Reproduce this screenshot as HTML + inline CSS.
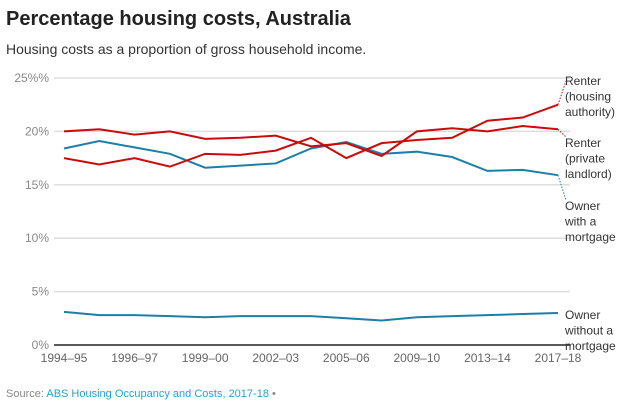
<!DOCTYPE html>
<html><head><meta charset="utf-8"><style>
body{margin:0;background:#fff;font-family:"Liberation Sans",sans-serif;}
#c{position:relative;width:640px;height:406px;overflow:hidden}
</style></head><body>
<div id="c">
<svg id="s" width="640" height="406">
<text x="6" y="25" font-size="20" font-weight="bold" fill="#222">Percentage housing costs, Australia</text>
<text x="6" y="54" font-size="14" fill="#333">Housing costs as a proportion of gross household income.</text>
<text x="6" y="397" font-size="11" fill="#888">Source: <tspan fill="#2a9fd0">ABS Housing Occupancy and Costs, 2017-18</tspan> •</text>
<g id="grid"></g><g id="lines"></g><g id="labels"></g>
</svg>
</div>
<script>
const categories=["1994–95","1995–96","1996–97","1997–98","1999–00","2000–01","2002–03","2003–04","2005–06","2007–08","2009–10","2011–12","2013–14","2015–16","2017–18"];
const tickLabels=["1994–95","1996–97","1999–00","2002–03","2005–06","2009–10","2013–14","2017–18"];
const yTicks=[0,5,10,15,20,25];
const yTickLabels=["0%","5%","10%","15%","20%","25%%"];
const renterPrivate=[20.0,20.2,19.7,20.0,19.3,19.4,19.6,18.6,18.9,17.7,20.0,20.3,20.0,20.5,20.2];
const renterAuthority=[17.5,16.9,17.5,16.7,17.9,17.8,18.2,19.4,17.5,18.9,19.2,19.4,21.0,21.3,22.5];
const ownerMortgage=[18.4,19.1,18.5,17.9,16.6,16.8,17.0,18.4,19.0,17.9,18.1,17.6,16.3,16.4,15.9];
const ownerOutright=[3.1,2.8,2.8,2.7,2.6,2.7,2.7,2.7,2.5,2.3,2.6,2.7,2.8,2.9,3.0];
const NS="http://www.w3.org/2000/svg";
const x0=64,x1=558,y0=345,y25=78;
const xs=i=>x0+i*(x1-x0)/(categories.length-1);
const ys=v=>y0-(v/25)*(y0-y25);
function mk(t,a,p){const e=document.createElementNS(NS,t);for(const k in a)e.setAttribute(k,a[k]);p.appendChild(e);return e;}
const g=document.getElementById('grid');
yTicks.forEach((v,i)=>{
 const l=mk('line',{x1:54,x2:570,y1:ys(v),y2:ys(v),stroke:v===0?'#222':'#ddd','stroke-width':1.5},g);
 
 
 const t=mk('text',{x:49,y:ys(v)+4,'text-anchor':'end','font-size':12,fill:'#888'},g);
 t.textContent=yTickLabels[i];
 
 
});
tickLabels.forEach(lab=>{
 const i=categories.indexOf(lab);
 const t=mk('text',{x:xs(i),y:362,'text-anchor':'middle','font-size':12,fill:'#666'},g);
 t.textContent=lab;
 
 
});
const L=document.getElementById('lines'),LB=document.getElementById('labels');
const series=[
 {d:ownerOutright,c:'#1c7fa6',n:'owner-without-mortgage',lab:["Owner","without a","mortgage"],ly:319,conn:false},
 {d:ownerMortgage,c:'#1c7fa6',n:'owner-with-mortgage',lab:["Owner","with a","mortgage"],ly:210,conn:true},
 {d:renterPrivate,c:'#cc0a0a',n:'renter-private-landlord',lab:["Renter","(private","landlord)"],ly:147,conn:true},
 {d:renterAuthority,c:'#cc0a0a',n:'renter-housing-authority',lab:["Renter","(housing","authority)"],ly:85,conn:true}
];
series.forEach(s=>{
 const p=mk('path',{d:s.d.map((v,i)=>(i?'L':'M')+xs(i)+','+ys(v)).join(''),fill:'none',stroke:s.c,'stroke-width':2},L);
 
 
 const lx=xs(s.d.length-1),ly=ys(s.d[s.d.length-1]);
 if(s.conn){const c=mk('line',{x1:lx,y1:ly,x2:566,y2:s.ly-(s.ly<ly?4:10),stroke:s.c,'stroke-width':1,'stroke-dasharray':'1.5,1.5'},L);
  
  }
 const t=mk('text',{x:565,y:s.ly,'font-size':12,fill:'#333'},LB);
 s.lab.forEach((w,k)=>{const ts=mk('tspan',{x:565,dy:k?15.5:0},t);ts.textContent=w;});
 
 
});
</script>
</body></html>
